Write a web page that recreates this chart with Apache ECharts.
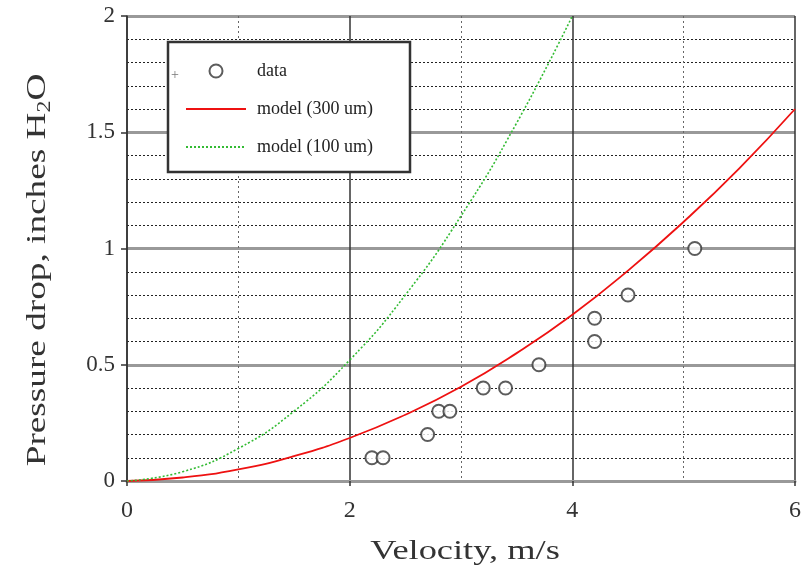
<!DOCTYPE html>
<html>
<head>
<meta charset="utf-8">
<script src="https://cdn.jsdelivr.net/npm/echarts@6/dist/echarts.min.js"></script>
<style>
html,body{margin:0;padding:0;background:#fff;}
#chart{width:804px;height:586px;}
</style>
</head>
<body>
<div id="chart"></div>
<script>
// Measured data points (velocity m/s, pressure drop inches H2O)
const dataVelocity = [2.2, 2.3, 2.7, 2.8, 2.9, 3.2, 3.4, 3.7, 4.2, 4.2, 4.5, 5.1];
const dataPressure = [0.1, 0.1, 0.2, 0.3, 0.3, 0.4, 0.4, 0.5, 0.6, 0.7, 0.8, 1.0];

// Model curve (300 um)
const model300Velocity = [0, 0.5, 1, 1.5, 2, 2.5, 3, 3.5, 4, 4.5, 5, 5.5, 6];
const model300Pressure = [0, 0.015, 0.05, 0.107, 0.185, 0.285, 0.405, 0.55, 0.715, 0.905, 1.115, 1.345, 1.6];

// Model curve (100 um)
const model100Velocity = [0, 0.5, 1, 1.5, 2, 2.5, 3, 3.5, 4];
const model100Pressure = [0, 0.04, 0.14, 0.3, 0.52, 0.8, 1.14, 1.54, 2.0];

const seriesNames = ['data', 'model (300 um)', 'model (100 um)'];
const xTitle = 'Velocity, m/s';
const yTitle = ['Pressure drop, inches H', '2', 'O'];

const pairs = (xs, ys) => xs.map((x, i) => [x, ys[i]]);
const SERIF = '"Liberation Serif", "Times New Roman", serif';

const chart = echarts.init(document.getElementById('chart'));
chart.setOption({
  backgroundColor: '#fff',
  animation: false,
  grid: { left: 127, right: 5, top: 16, bottom: 105, containLabel: false },
  xAxis: {
    type: 'value', min: 0, max: 6, interval: 2,
    axisLine: { show: true, onZero: false, lineStyle: { color: '#999', width: 3 } },
    axisTick: { show: true, inside: false, length: 5, lineStyle: { color: '#333', width: 1.5 } },
    axisLabel: { margin: 18, fontFamily: SERIF, fontSize: 24, color: '#333' },
    splitLine: { show: true, lineStyle: { color: '#333', width: 1.5 } },
    minorTick: { show: false, splitNumber: 2 },
    minorSplitLine: { show: true, lineStyle: { color: '#666', width: 1, type: [2, 3] } }
  },
  yAxis: {
    type: 'value', min: 0, max: 2, interval: 0.5,
    axisLine: { show: true, onZero: false, lineStyle: { color: '#333', width: 1.5 } },
    axisTick: { show: true, inside: false, length: 6, lineStyle: { color: '#333', width: 1.5 } },
    axisLabel: { margin: 12, fontFamily: SERIF, fontSize: 23, color: '#333' },
    splitLine: { show: true, lineStyle: { color: '#999', width: 3 } },
    minorTick: { show: false, splitNumber: 5 },
    minorSplitLine: { show: true, lineStyle: { color: '#222', width: 1, type: [2, 2] } }
  },
  legend: {
    data: [
      { name: seriesNames[0] },
      { name: seriesNames[1], itemStyle: { opacity: 0 } },
      { name: seriesNames[2], itemStyle: { opacity: 0 } }
    ],
    orient: 'vertical',
    left: 180, top: 57,
    itemWidth: 60, itemHeight: 13, itemGap: 20,
    z: 10,
    textStyle: { fontFamily: SERIF, fontSize: 18, color: '#222', padding: [0, 0, 0, 6] }
  },
  graphic: [
    { type: 'rect', z: 5, shape: { x: 168, y: 42, width: 242, height: 130 },
      style: { fill: '#fff', stroke: '#333', lineWidth: 2.5 } },
    { type: 'text', z: 11, x: 175, y: 75,
      style: { text: '+', fontFamily: SERIF, fontSize: 14, fill: '#777', textAlign: 'center', textVerticalAlign: 'middle' } },
    { type: 'text', z: 11, x: 465, y: 552, scaleX: 1.3,
      style: { text: xTitle, fontFamily: SERIF, fontSize: 28, fill: '#333', textAlign: 'center', textVerticalAlign: 'middle' } },
    { type: 'text', z: 11, x: 38, y: 270, rotation: Math.PI / 2, scaleX: 1.33,
      style: {
        text: '{a|' + yTitle[0] + '}{s|' + yTitle[1] + '}{a|' + yTitle[2] + '}',
        textAlign: 'center', textVerticalAlign: 'middle',
        rich: {
          a: { fontFamily: SERIF, fontSize: 28, lineHeight: 32, fill: '#333', color: '#333', verticalAlign: 'middle' },
          s: { fontFamily: SERIF, fontSize: 18, lineHeight: 14, fill: '#333', color: '#333', verticalAlign: 'bottom' }
        }
      } }
  ],
  series: [
    {
      name: seriesNames[0], type: 'scatter',
      data: pairs(dataVelocity, dataPressure),
      symbol: 'emptyCircle', symbolSize: 13, z: 4,
      itemStyle: { color: '#333', borderColor: '#333', borderWidth: 1.5 }
    },
    {
      name: seriesNames[1], type: 'line', smooth: true, symbol: 'none', z: 3,
      data: pairs(model300Velocity, model300Pressure),
      lineStyle: { color: '#ee1111', width: 1.8, type: 'solid' },
      itemStyle: { color: '#ee1111' }
    },
    {
      name: seriesNames[2], type: 'line', smooth: true, symbol: 'none', z: 3,
      data: pairs(model100Velocity, model100Pressure),
      lineStyle: { color: '#33bb33', width: 1.6, type: [2, 2] },
      itemStyle: { color: '#33bb33' }
    }
  ]
});
</script>
</body>
</html>
